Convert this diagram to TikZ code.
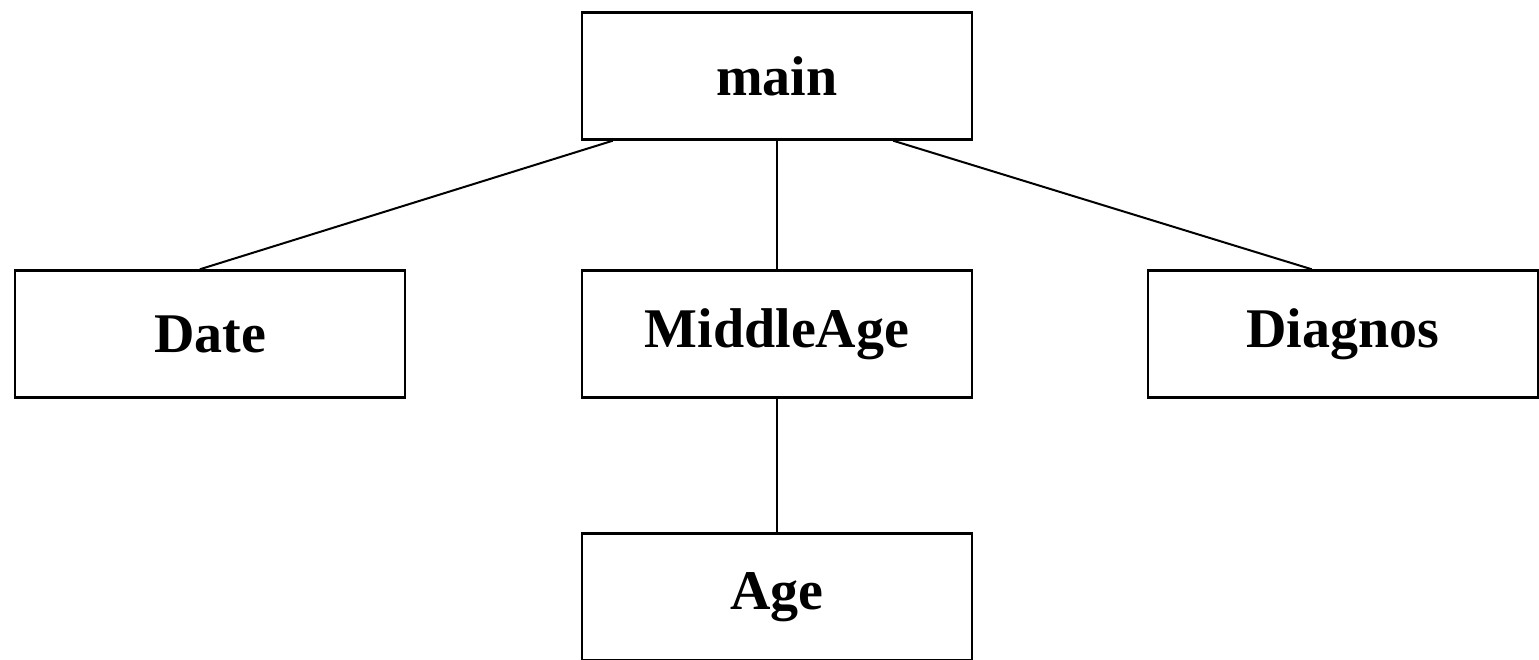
\documentclass[tikz,border=0pt]{standalone}
\usepackage{fontspec}
\setmainfont{Liberation Serif}
\begin{document}
\begin{tikzpicture}[x=1pt,y=-1pt,
  box/.style={draw=black,line width=2.4pt,minimum width=390pt,minimum height=127pt,inner sep=0pt,font=\fontsize{56}{62}\selectfont\bfseries},
  link/.style={line width=2pt}]
\useasboundingbox (0,0) rectangle (1539,659);
\node[box] (main) at (777,76) {main};
\node[box] (date) at (210,334) {Date};
\node[box] (mid) at (777,334) {MiddleAge};
\node[box] (diag) at (1343,334) {Diagnos};
\node[box] (age) at (777,597) {Age};
\draw[link] ([xshift=32pt]main.south west) -- ([xshift=186pt]date.north west);
\draw[link] (main.south) -- (mid.north);
\draw[link] ([xshift=-80pt]main.south east) -- ([xshift=165pt]diag.north west);
\draw[link] (mid.south) -- (age.north);
\end{tikzpicture}
\end{document}
